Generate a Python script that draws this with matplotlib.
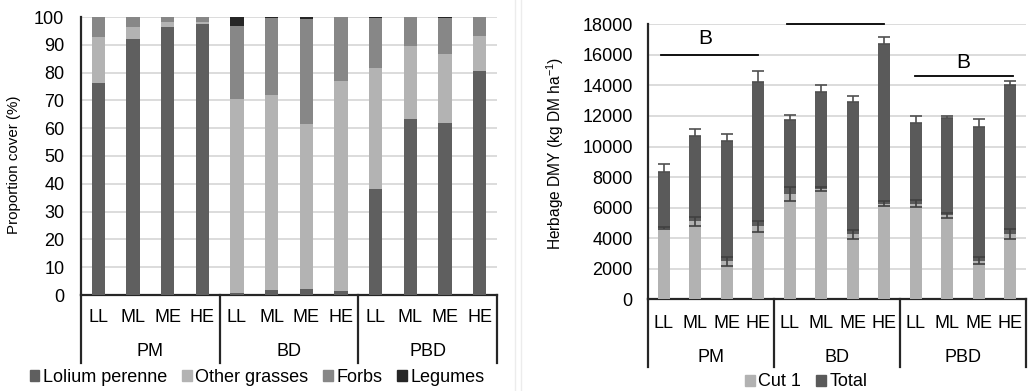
import matplotlib
matplotlib.use("Agg")
import matplotlib.pyplot as plt
from matplotlib.patches import Patch
from matplotlib.lines import Line2D
import numpy as np

plt.rcParams['font.family'] = ['Liberation Sans', 'DejaVu Sans']
plt.rcParams['mathtext.default'] = 'regular'

# ---------------- data ----------------
groups = ["PM", "BD", "PBD"]
subcats = ["LL", "ML", "ME", "HE"]

# Left chart: proportion cover (%)
lolium = [76.3, 92.0, 96.5, 97.6, 0.7, 1.7, 2.2, 1.5, 38.0, 63.2, 61.8, 80.6]
other_grasses = [16.6, 4.5, 1.6, 0.6, 69.9, 70.1, 59.3, 75.6, 43.5, 26.4, 24.9, 12.6]
forbs = [7.1, 3.5, 1.9, 1.8, 26.1, 28.0, 37.8, 22.9, 18.0, 10.4, 13.1, 6.8]
legumes = [0.0, 0.0, 0.0, 0.0, 3.3, 0.2, 0.7, 0.0, 0.5, 0.0, 0.2, 0.0]

# Right chart: herbage DMY (kg DM/ha)
cut1 = [4680, 5100, 2500, 4780, 6880, 7200, 4250, 6270, 6250, 5500, 2530, 4250]
cut1_err = [80, 300, 300, 350, 440, 120, 300, 160, 240, 180, 220, 330]
total = [8350, 10700, 10370, 14200, 11760, 13600, 12930, 16700, 11540, 11850, 11300, 14040]
total_err = [520, 440, 480, 720, 330, 430, 350, 500, 430, 170, 520, 280]

sig_lines = [(-0.1, 3.0, 16000), (3.9, 7.0, 18000), (7.97, 11.08, 14600)]
sig_labels = [(1.33, 17100, "B"), (9.5, 15530, "B")]

# ---------------- figure ----------------
W, H = 1028, 391
fig = plt.figure(figsize=(W / 100, H / 100), dpi=100)

def px_axes(l, r, t, b):
    return fig.add_axes([l / W, 1 - b / H, (r - l) / W, (b - t) / H])

ax1 = px_axes(81, 497, 17, 295)
ax2 = px_axes(648, 1026, 24.3, 299.3)

x = np.arange(len(lolium))
c_lol, c_oth, c_forb, c_leg = "#5f5f5f", "#b3b3b3", "#878787", "#262626"
grid_c = "#d9d9d9"
fs = 13

# left chart
bw = 0.39
b = np.zeros(len(x))
for vals, col in [(lolium, c_lol), (other_grasses, c_oth), (forbs, c_forb), (legumes, c_leg)]:
    ax1.bar(x, vals, bw, bottom=b, color=col, zorder=3)
    b = b + np.array(vals)
ax1.set_ylim(0, 100)
ax1.set_xlim(-0.5, len(x) - 0.5)
ax1.set_yticks(np.arange(0, 101, 10))
ax1.set_ylabel("Proportion cover (%)", fontsize=10.9)
ax1.yaxis.set_label_coords(-0.144, 0.47)

# right chart
bw2 = 0.37
ax2.bar(x, total, bw2, color="#5a5a5a", zorder=3)
ax2.errorbar(x, total, yerr=[np.zeros(len(x)), total_err], fmt="none",
             ecolor="#505050", elinewidth=1.2, capsize=4, capthick=1.2, zorder=4)
ax2.bar(x, cut1, bw2, color="#b2b2b2", zorder=5)
ax2.errorbar(x, cut1, yerr=cut1_err, fmt="none",
             ecolor="#404040", elinewidth=1.2, capsize=4, capthick=1.2, zorder=6)
ax2.set_ylim(0, 18000)
ax2.set_xlim(-0.5, len(x) - 0.5)
ax2.set_yticks(np.arange(0, 18001, 2000))
ax2.set_ylabel("Herbage DMY (kg DM ha$^{-1}$)", fontsize=11.2)
ax2.yaxis.set_label_coords(-0.217, 0.53)

for (x0, x1, yv) in sig_lines:
    ax2.plot([x0, x1], [yv, yv], color="black", lw=1.3, clip_on=False, zorder=7)
for (xl, yl, lab) in sig_labels:
    ax2.text(xl, yl, lab, ha="center", va="center", fontsize=15, zorder=7)

def style_axes(ax, axh_px, sub_off, grp_off, div_len, pad):
    ax.yaxis.grid(True, color=grid_c, lw=1.3, zorder=0)
    ax.set_axisbelow(True)
    for s in ["top", "right"]:
        ax.spines[s].set_visible(False)
    ax.spines["left"].set_color("#262626")
    ax.spines["left"].set_linewidth(1.6)
    ax.spines["bottom"].set_color("#262626")
    ax.spines["bottom"].set_linewidth(1.6)
    ax.tick_params(axis="y", length=0, labelsize=fs, pad=pad)
    ax.set_xticks([])
    tr = ax.get_xaxis_transform()
    n = len(subcats)
    for gi, g in enumerate(groups):
        for si, s in enumerate(subcats):
            ax.text(gi * n + si, -sub_off / axh_px, s, transform=tr, ha="center",
                    va="center", fontsize=fs)
        ax.text(gi * n + (n - 1) / 2, -grp_off / axh_px, g, transform=tr,
                ha="center", va="center", fontsize=fs)
    for k in range(len(groups) + 1):
        xd = k * n - 0.5
        ax.add_line(Line2D([xd, xd], [0, -div_len / axh_px], transform=tr,
                           color="#262626", lw=1.6, clip_on=False))

style_axes(ax1, 278, 23, 57, 68, 12)
style_axes(ax2, 275, 24, 58, 68, 11)

# legends
fig.legend(handles=[Patch(color=c_lol, label="Lolium perenne"),
                    Patch(color=c_oth, label="Other grasses"),
                    Patch(color=c_forb, label="Forbs"),
                    Patch(color=c_leg, label="Legumes")],
           loc="center", bbox_to_anchor=(257 / W, 1 - 377 / H), ncol=4,
           frameon=False, fontsize=fs, handlelength=0.55, handleheight=0.55,
           handletextpad=0.2, columnspacing=0.8, borderpad=0)
fig.legend(handles=[Patch(color="#b2b2b2", label="Cut 1"),
                    Patch(color="#5a5a5a", label="Total")],
           loc="center", bbox_to_anchor=(806 / W, 1 - 382 / H), ncol=2,
           frameon=False, fontsize=fs, handlelength=0.55, handleheight=0.55,
           handletextpad=0.2, columnspacing=0.8, borderpad=0)

# faint chart borders
for xp in (515, 521):
    fig.add_artist(Line2D([xp / W, xp / W], [0, 1], transform=fig.transFigure,
                          color="#ececec", lw=1))

fig.savefig("out.png", dpi=100)
